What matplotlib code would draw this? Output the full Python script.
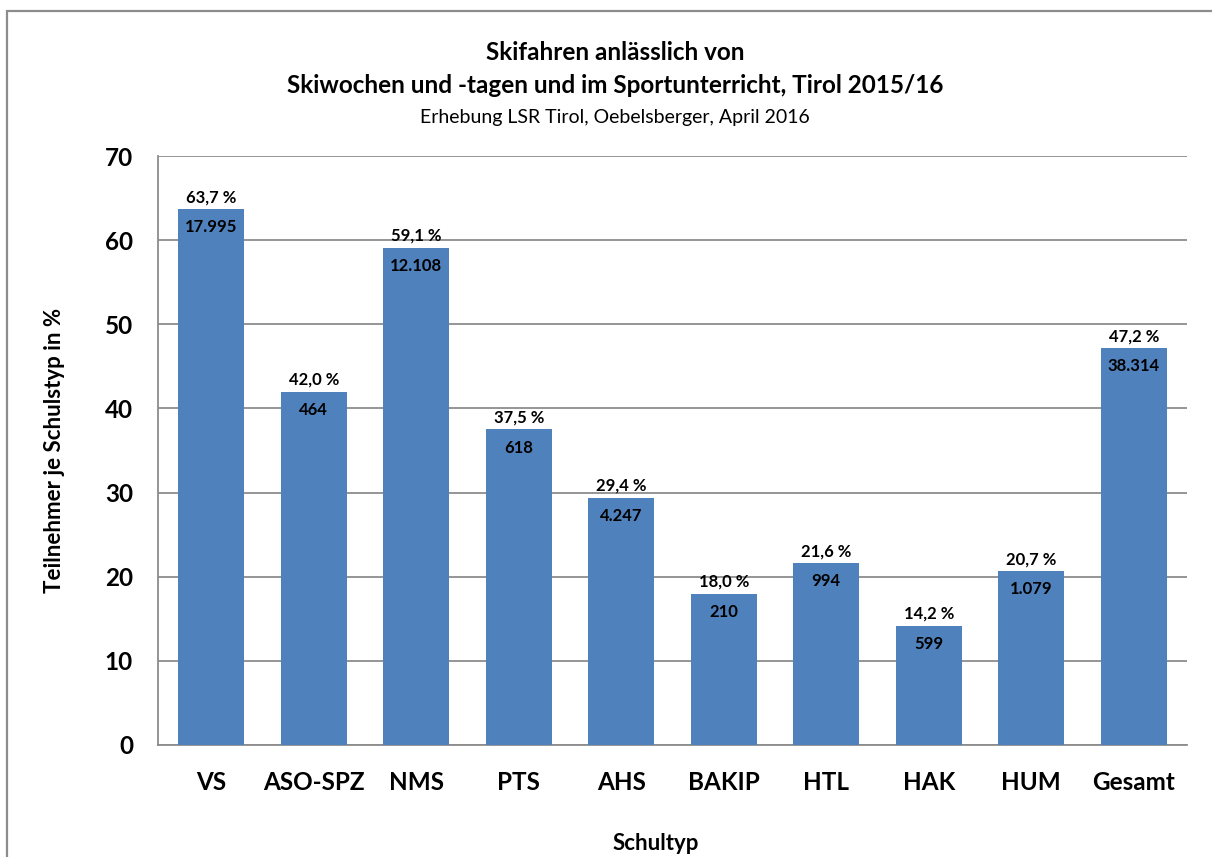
import matplotlib.pyplot as plt
from matplotlib.patches import Rectangle

plt.rcParams['font.family'] = ['Lato', 'DejaVu Sans']

# Daten
schultyp = ['VS', 'ASO-SPZ', 'NMS', 'PTS', 'AHS', 'BAKIP', 'HTL', 'HAK', 'HUM', 'Gesamt']
prozent = [63.7, 42.0, 59.1, 37.5, 29.4, 18.0, 21.6, 14.2, 20.7, 47.2]
teilnehmer = ['17.995', '464', '12.108', '618', '4.247', '210', '994', '599', '1.079', '38.314']

fig = plt.figure(figsize=(12.12, 8.57), dpi=100)
fig.patch.set_facecolor('white')

# Rahmen um das Diagramm (rechts/unten abgeschnitten)
fig.patches.append(Rectangle((7 / 1212, -0.05), 1.2, 1 - 11 / 857 + 0.05,
                             transform=fig.transFigure, fill=False,
                             edgecolor='#8C8C8C', linewidth=1.6))

ax = fig.add_axes([158 / 1212, 1 - 745 / 857, (1187 - 158) / 1212, (745 - 156) / 857])

x = range(len(schultyp))
bars = ax.bar(x, prozent, width=0.64, color='#4F81BD', zorder=3)

for xi, p, n in zip(x, prozent, teilnehmer):
    ax.text(xi, p + 0.45, f'{p:.1f} %'.replace('.', ','), ha='center', va='bottom',
            fontsize=12, fontweight='bold')
    ax.text(xi, p - 1.2, n, ha='center', va='top', fontsize=12, fontweight='bold')

ax.set_ylim(0, 70)
ax.set_xlim(-0.52, len(schultyp) - 0.48)
ax.set_yticks(range(0, 71, 10))
ax.set_xticks(list(x))
ax.set_xticklabels(schultyp)
ax.tick_params(axis='both', length=0, labelsize=17.5)
for lbl in ax.get_xticklabels() + ax.get_yticklabels():
    lbl.set_fontweight('bold')
ax.tick_params(axis='y', pad=18)
ax.tick_params(axis='x', pad=19)

ax.grid(axis='y', color='#8C8C8C', linewidth=1.3, zorder=0)
ax.spines['top'].set_visible(False)
ax.spines['right'].set_visible(False)
ax.spines['left'].set_color('#8C8C8C')
ax.spines['bottom'].set_color('#8C8C8C')
ax.spines['left'].set_linewidth(1.3)
ax.spines['bottom'].set_linewidth(1.3)

ax.set_ylabel('Teilnehmer je Schulstyp in %', fontsize=16, fontweight='bold')
ax.yaxis.set_label_coords(-0.09, 0.5)
ax.set_xlabel('Schultyp', fontsize=16, fontweight='bold')
ax.xaxis.set_label_coords(0.484, -0.149)

fig.text(0.5 * (284 + 946) / 1212, 1 - 69 / 857,
         'Skifahren anlässlich von\nSkiwochen und -tagen und im Sportunterricht, Tirol 2015/16',
         ha='center', va='center', fontsize=17.5, fontweight='bold', linespacing=1.55)
fig.text(0.5 * (284 + 946) / 1212, 1 - 117 / 857,
         'Erhebung LSR Tirol, Oebelsberger, April 2016',
         ha='center', va='center', fontsize=14)

fig.savefig('out.png', dpi=100, facecolor='white')
